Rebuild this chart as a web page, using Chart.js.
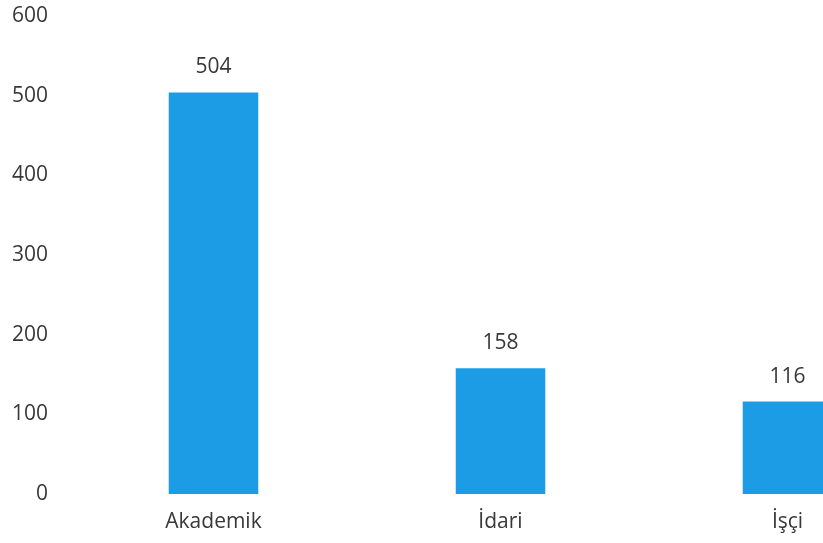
<!DOCTYPE html>
<html lang="tr">
<head>
<meta charset="utf-8">
<title>Personel Dağılımı</title>
<script src="https://cdn.jsdelivr.net/npm/chart.js@4/dist/chart.umd.min.js"></script>
<style>
  html, body { margin: 0; padding: 0; background: #fff; overflow: hidden; }
  #wrap { width: 931px; height: 543px; }
</style>
</head>
<body>
<div id="wrap"><canvas id="personelChart" width="931" height="543"></canvas></div>
<script>
// 職員区分ごとの人数
const categories = ['Akademik', 'İdari', 'İşçi']
const counts = [504, 158, 116]
const yTicks = [0, 100, 200, 300, 400, 500, 600]

const textColor = '#383838'
const barColor = '#1b9ce4'
const fontFamily = "'Open Sans', 'Noto Sans', sans-serif"

// 棒の上に値を描く簡易プラグイン
const valueLabels = {
  id: 'valueLabels',
  afterDatasetsDraw(chart) {
    const { ctx } = chart
    ctx.save()
    ctx.font = `21px ${fontFamily}`
    ctx.fillStyle = textColor
    ctx.textAlign = 'center'
    ctx.textBaseline = 'middle'
    chart.getDatasetMeta(0).data.forEach((bar, i) => {
      ctx.fillText(String(counts[i]), bar.x, bar.y - 25)
    })
    ctx.restore()
  }
}

new Chart(document.getElementById('personelChart'), {
  type: 'bar',
  data: {
    labels: categories,
    datasets: [{
      data: counts,
      backgroundColor: barColor,
      borderWidth: 0,
      barPercentage: 1,
      categoryPercentage: 0.312
    }]
  },
  options: {
    responsive: false,
    animation: false,
    layout: { padding: { top: 16, right: 0, bottom: 0, left: 0 } },
    plugins: {
      legend: { display: false },
      tooltip: { enabled: false }
    },
    scales: {
      x: {
        grid: { display: false, drawTicks: false },
        border: { display: false },
        ticks: {
          color: textColor,
          font: { family: fontFamily, size: 21 },
          padding: 15
        },
        afterFit(scale) { scale.height = 49 }
      },
      y: {
        min: 0,
        max: 600,
        grid: { display: false, drawTicks: false },
        border: { display: false },
        afterBuildTicks(scale) {
          scale.ticks = yTicks.map(v => ({ value: v }))
        },
        ticks: {
          color: textColor,
          font: { family: fontFamily, size: 21 },
          padding: 22
        },
        // 軸幅を固定し、目盛ラベルによる上下の余白を外す
        afterFit(scale) {
          scale.width = 70
          scale.paddingTop = 0
          scale.paddingBottom = 0
        }
      }
    }
  },
  plugins: [valueLabels]
})
</script>
</body>
</html>
